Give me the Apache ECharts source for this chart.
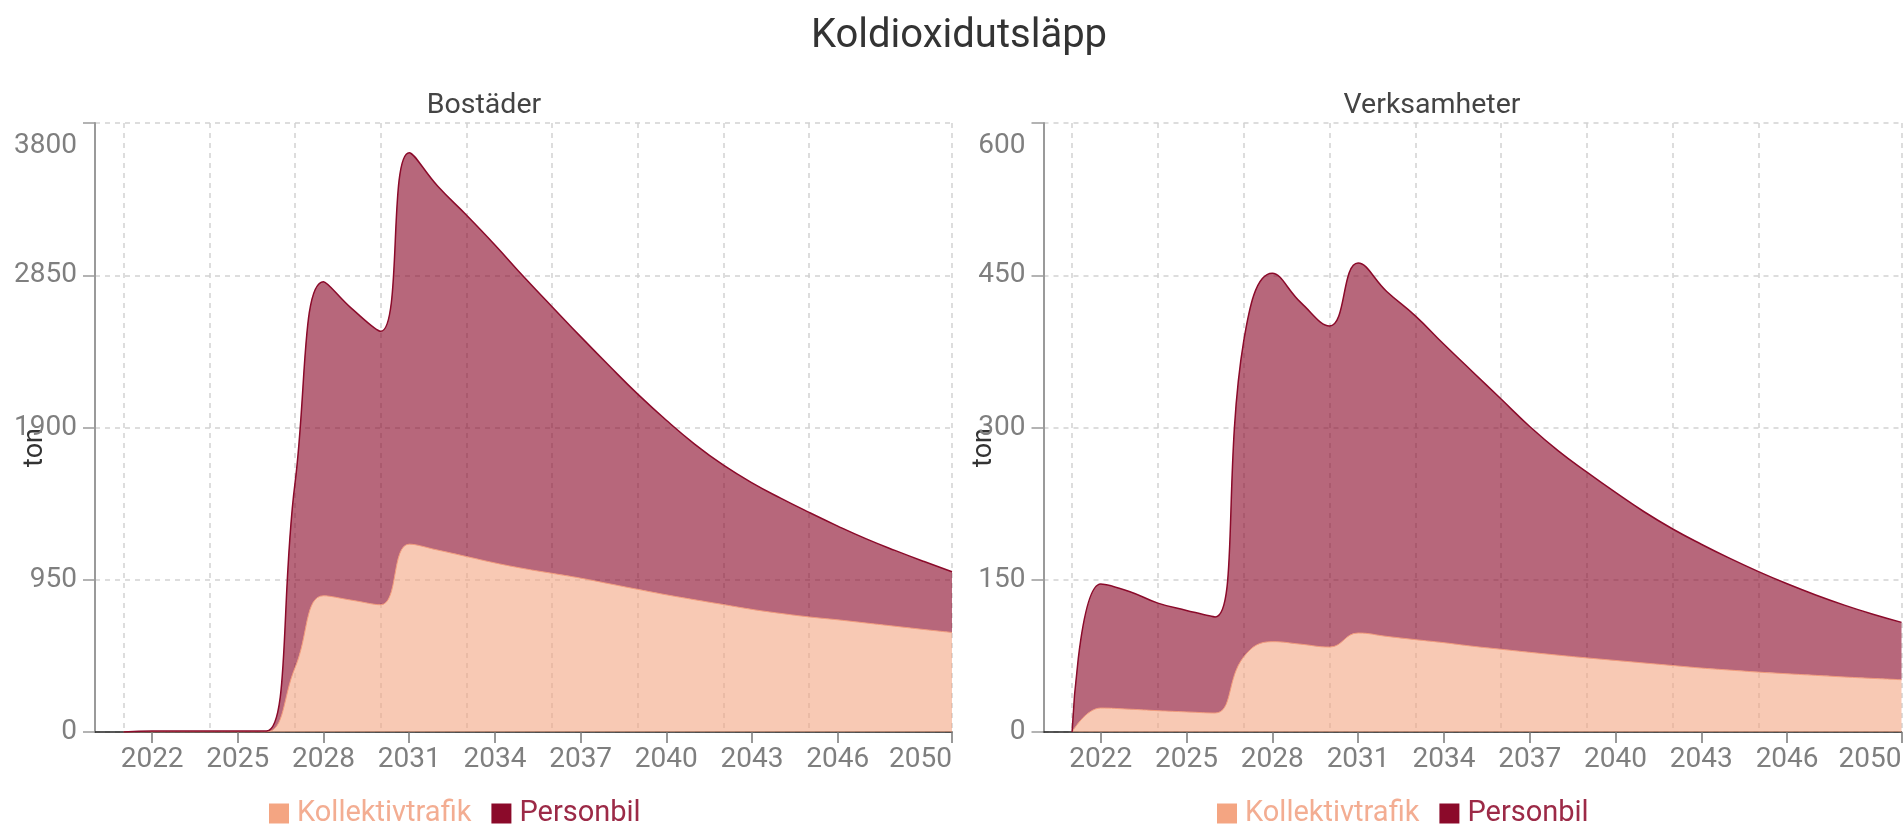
<!DOCTYPE html>
<html>
<head>
<meta charset="utf-8">
<script src="https://cdn.jsdelivr.net/npm/echarts@6/dist/echarts.min.js"></script>
<style>
html,body{margin:0;padding:0;background:#fff;}
#chart{width:1903px;height:827px;}
</style>
</head>
<body>
<div id="chart"></div>
<script>
// ---- data ----
const years = ['2020','2021','2022','2023','2024','2025','2026','2027','2028','2029','2030','2031','2032','2033','2034','2035','2036','2037','2038','2039','2040','2041','2042','2043','2044','2045','2046','2047','2048','2049','2050'];
const xTickLabels = ['2022','2025','2028','2031','2034','2037','2040','2043','2046','2050'];
const xGridValues = ['2021','2024','2027','2030','2033','2036','2039','2042','2045','2050'];

// Bostäder (left) — 2020 has no value
const bostKollektiv = [null,0,1,1,1,1,1,400,850,822,794,1172,1135,1095,1055,1020,990,960,925,890,856,825,795,765,740,718,700,680,660,640,621];
const bostTotal     = [null,0,6,6,6,6,6,1550,2810,2640,2500,3615,3405,3226,3039,2842,2654,2467,2285,2108,1945,1795,1665,1555,1459,1370,1285,1205,1133,1065,1000];
// Verksamheter (right)
const verkKollektiv = [null,0,23.6,22.5,21,19.8,18.7,74,89,86.5,83.7,97.5,94.2,91,88,84.5,81.5,78.5,75.7,73,70.5,68,65.5,63,61,59,57.4,55.8,54.2,52.8,51.5];
const verkTotal     = [null,0,145.8,138.5,127,119.8,113.3,385,452,423,400,462,434,410,382,355,328,301,277,256,236,217,200,185,171,158,146,135,125,116,108];

const bostYTicks = {max:3800, interval:950};
const verkYTicks = {max:600, interval:150};

// ---- helpers ----
const diff = (tot, base) => tot.map((v,i)=> v == null ? null : +(v - base[i]).toFixed(2));

const COL_K = '#f4a582';
const COL_P = '#8b0a2a';
const FONT = 'Roboto';

function xAxes(gridIndex){
  return [
    {
      type:'category', gridIndex, data:years, boundaryGap:false,
      axisLine:{show:true, onZero:false, lineStyle:{color:'#222', width:1.5}},
      axisTick:{show:true, length:11, interval:(i,v)=>xTickLabels.includes(String(v)), lineStyle:{color:'#777', width:1.5}},
      axisLabel:{show:true, interval:(i,v)=>xTickLabels.includes(String(v)), fontSize:28, color:'#7f7f7f', margin:14, fontFamily:FONT, alignMaxLabel:'right'},
      splitLine:{show:true, interval:(i,v)=>xGridValues.includes(String(v)), lineStyle:{color:'#d2d2d2', width:1.5, type:[5,5]}}
    }
  ];
}
function yAxis(gridIndex, t){
  return {
    type:'value', gridIndex, min:0, max:t.max, interval:t.interval,
    name:'ton', nameLocation:'middle', nameRotate:90, nameGap:46, nameMoveOverlap:false,
    nameTextStyle:{fontSize:27, color:'#333', fontFamily:FONT, padding:[0,40,0,0]},
    axisLine:{show:true, lineStyle:{color:'#9a9a9a', width:2}},
    axisTick:{show:true, length:12, lineStyle:{color:'#9a9a9a', width:1.5}},
    axisLabel:{fontSize:28, color:'#7f7f7f', margin:18, fontFamily:FONT, lineHeight:46, verticalAlignMaxLabel:'top', formatter:(v)=>String(v)},
    splitLine:{show:true, lineStyle:{color:'#d2d2d2', width:1.5, type:[5,5]}}
  };
}
function areaSeries(name, xIdx, yIdx, stack, data, solid, fill, lineColor, lineW){
  return {
    name, type:'line', xAxisIndex:xIdx, yAxisIndex:yIdx, stack,
    data, smooth:0.45, showSymbol:false, symbol:'none',
    itemStyle:{color:solid},
    lineStyle:{color:lineColor, width:lineW},
    areaStyle:{color:fill, opacity:1},
    emphasis:{disabled:true}, z:2
  };
}
function legend(left){
  return {
    left, top:799, padding:0, itemWidth:20, itemHeight:20, itemGap:20, icon:'rect',
    textStyle:{fontSize:29, fontFamily:FONT, padding:[0,0,0,3]},
    data:[
      {name:'Kollektivtrafik', itemStyle:{color:COL_K, borderWidth:0}, textStyle:{color:'#f3ad92'}},
      {name:'Personbil', itemStyle:{color:COL_P, borderWidth:0}, textStyle:{color:'#9c2a47'}}
    ]
  };
}

const chart = echarts.init(document.getElementById('chart'), null, {renderer:'canvas'});
chart.setOption({
  animation:false,
  textStyle:{fontFamily:FONT},
  title:[
    {text:'Koldioxidutsläpp', left:954, textAlign:'center', top:12, textStyle:{fontSize:40, fontWeight:'normal', color:'#333', fontFamily:FONT}},
    {text:'Bostäder', left:479, textAlign:'center', top:86, textStyle:{fontSize:28.5, fontWeight:'normal', color:'#444', fontFamily:FONT}},
    {text:'Verksamheter', left:1427, textAlign:'center', top:86, textStyle:{fontSize:28.5, fontWeight:'normal', color:'#444', fontFamily:FONT}}
  ],
  legend:[legend(269), legend(1217)],
  grid:[
    {left:95, right:951, top:123, bottom:95, containLabel:false, outerBoundsMode:'none'},
    {left:1043.5, right:1.5, top:123, bottom:95, containLabel:false, outerBoundsMode:'none'}
  ],
  xAxis:[...xAxes(0), ...xAxes(1)],
  yAxis:[yAxis(0, bostYTicks), yAxis(1, verkYTicks)],
  series:[
    areaSeries('Kollektivtrafik', 0, 0, 'bost', bostKollektiv, COL_K, 'rgba(244,165,130,0.6)', '#f29c7c', 1),
    areaSeries('Personbil', 0, 0, 'bost', diff(bostTotal, bostKollektiv), COL_P, 'rgba(139,10,42,0.62)', COL_P, 1.5),
    areaSeries('Kollektivtrafik', 1, 1, 'verk', verkKollektiv, COL_K, 'rgba(244,165,130,0.6)', '#f29c7c', 1),
    areaSeries('Personbil', 1, 1, 'verk', diff(verkTotal, verkKollektiv), COL_P, 'rgba(139,10,42,0.62)', COL_P, 1.5)
  ]
});
</script>
</body>
</html>
